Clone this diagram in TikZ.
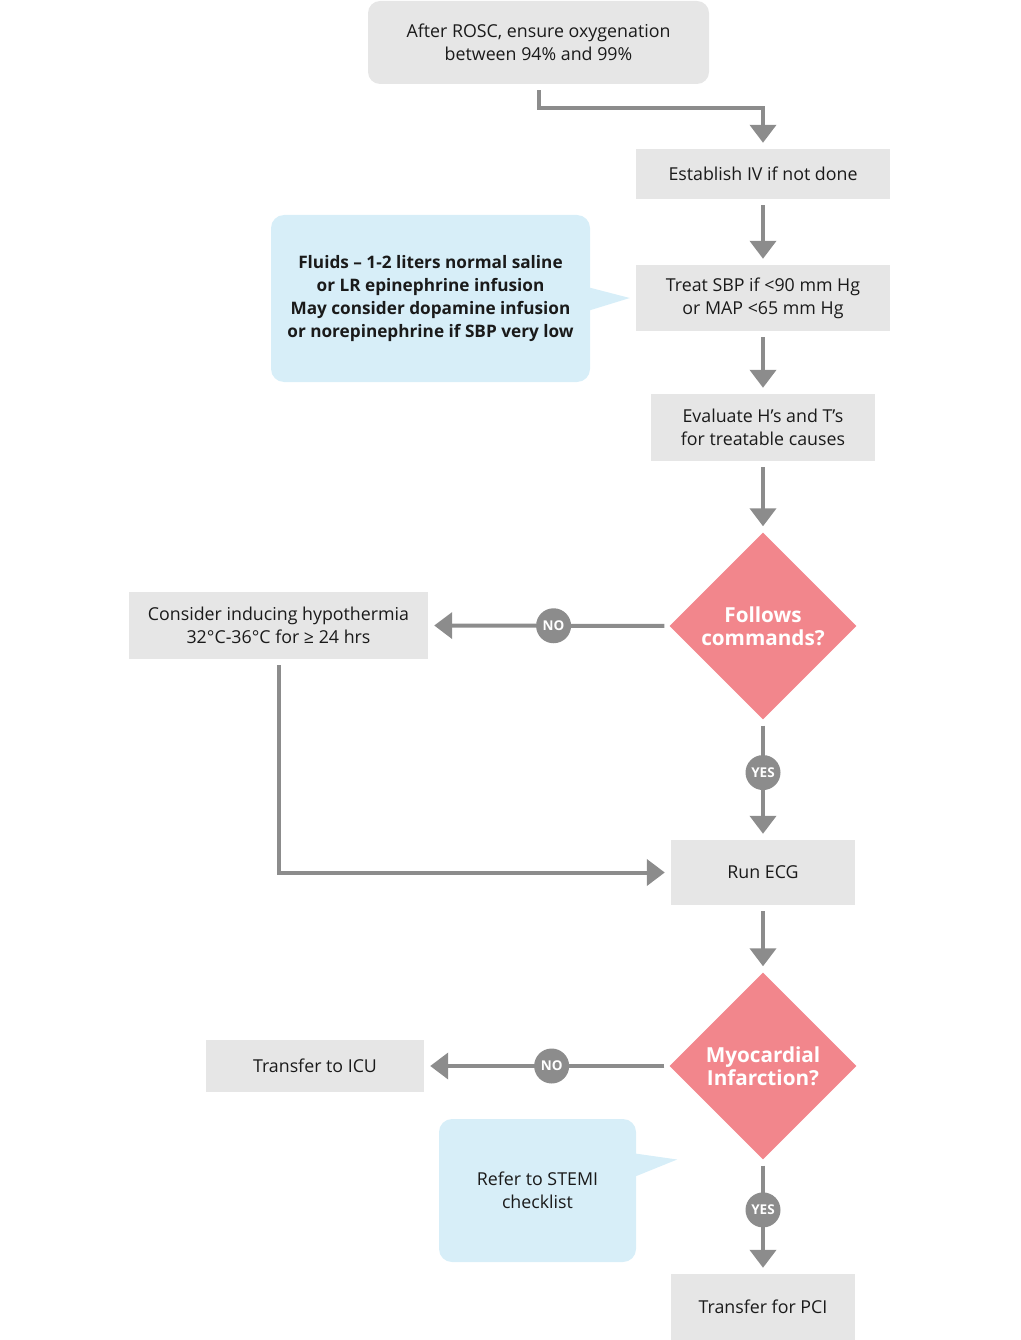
\documentclass[tikz,border=0pt]{standalone}
\usepackage{fontspec}
\setmainfont{Open Sans}
\usetikzlibrary{shapes.geometric,arrows.meta,calc}
\definecolor{boxgray}{HTML}{E6E6E6}
\definecolor{linegray}{HTML}{8C8C8C}
\definecolor{decisionred}{HTML}{F2868C}
\definecolor{noteblue}{HTML}{D7EEF8}
\definecolor{textdark}{HTML}{1A1A1A}
\begin{document}
\begin{tikzpicture}[x=1pt, y=-1pt,
    action/.style={rectangle, fill=boxgray, text=textdark, align=center, inner sep=0pt, font=\fontsize{17.8}{23}\selectfont},
    decision/.style={diamond, aspect=1, fill=decisionred, text=white, align=center, inner sep=0pt, minimum size=187pt, font=\fontsize{20.7}{23}\selectfont\bfseries},
    note/.style={rectangle, fill=noteblue, text=textdark, align=center, inner sep=0pt, rounded corners=13pt, font=\fontsize{17.8}{23}\selectfont},
    answer/.style={circle, fill=linegray, text=white, inner sep=0pt, minimum size=35pt, font=\fontsize{13.5}{13.5}\selectfont\bfseries},
    flow/.style={draw=linegray, line width=4pt, -{Triangle[width=26pt,length=18pt]}, shorten <=6pt, shorten >=6pt}
]
\useasboundingbox (0,0) rectangle (1020,1340);

% Steps
\node[action, rounded corners=12pt, minimum width=341pt, minimum height=83pt] (start) at (538.5,42.5) {After ROSC, ensure oxygenation\\between 94\% and 99\%};
\node[action, minimum width=254pt, minimum height=50pt] (establish) at (763,174) {Establish IV if not done};
\node[action, minimum width=254pt, minimum height=66pt] (treat) at (763,298) {Treat SBP if <90 mm Hg\\or MAP <65 mm Hg};
\node[action, minimum width=224pt, minimum height=67pt] (evaluate) at (763,427.5) {Evaluate H’s and T’s\\for treatable causes};
\node[action, minimum width=299pt, minimum height=67pt] (hypo) at (278.5,625.5) {Consider inducing hypothermia\\32°C-36°C for ≥ 24 hrs};
\node[action, minimum width=184pt, minimum height=65pt] (ecg) at (763,872.5) {Run ECG};
\node[action, minimum width=218pt, minimum height=52pt] (icu) at (315,1066) {Transfer to ICU};
\node[action, minimum width=184pt, minimum height=66pt] (pci) at (763,1307) {Transfer for PCI};

% Decisions
\node[decision] (follows) at (763,626) {Follows\\commands?};
\node[decision] (infarct) at (763,1066) {Myocardial\\Infarction?};

% Notes
\node[note, minimum width=319pt, minimum height=167pt, font=\fontsize{17.2}{23}\selectfont\bfseries] (fluids) at (430.5,298.5) {Fluids – 1-2 liters normal saline\\or LR epinephrine infusion\\May consider dopamine infusion\\or norepinephrine if SBP very low};
\fill[noteblue] ($(fluids.east)+(-1,-11)$) -- ($(treat.west)+(-6,0)$) -- ($(fluids.east)+(-1,12)$) -- cycle;
\node[note, minimum width=197pt, minimum height=143pt] (stemi) at (537.5,1190.5) {Refer to STEMI\\checklist};
\fill[noteblue] ($(stemi.east)+(-1,-37)$) -- ($(stemi.east)+(41,-31)$) -- ($(stemi.east)+(-1,-14)$) -- cycle;

% Connections
\draw[flow] (start.south) -- ++(0,24) -| (establish.north);
\draw[flow] (establish) -- (treat);
\draw[flow] (treat) -- (evaluate);
\draw[flow] (evaluate) -- (follows);
\draw[flow, shorten <=5pt] (follows.west) -- node[answer, pos=0.48] {NO} (hypo.east);
\draw[flow] (follows.south) -- node[answer, pos=0.44] {YES} (ecg.north);
\draw[flow] (hypo.south) |- (ecg.west);
\draw[flow] (ecg) -- (infarct);
\draw[flow, shorten <=5pt] (infarct.west) -- node[answer, pos=0.48] {NO} (icu.east);
\draw[flow] (infarct.south) -- node[answer, pos=0.44] {YES} (pci.north);

\end{tikzpicture}
\end{document}
